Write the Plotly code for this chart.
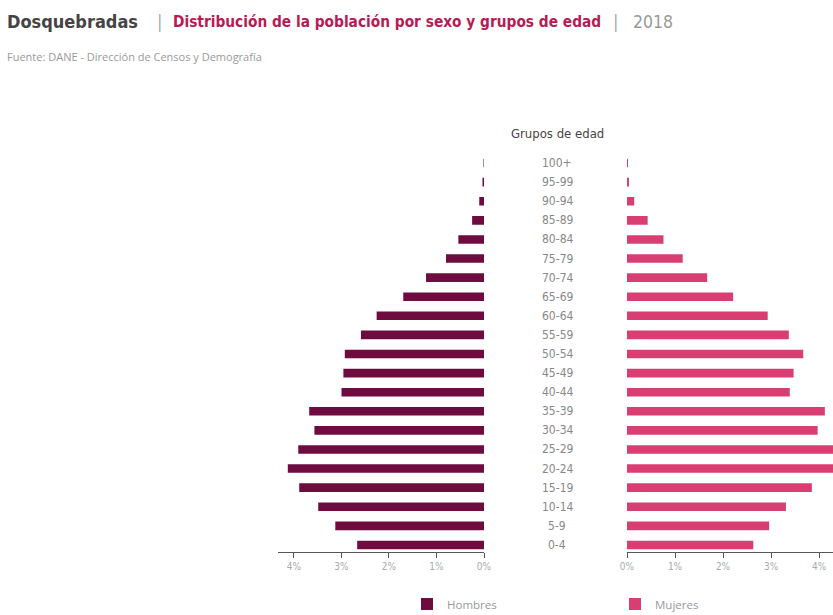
import plotly.graph_objects as go

age_groups = ["0-4", "5-9", "10-14", "15-19", "20-24", "25-29", "30-34", "35-39",
              "40-44", "45-49", "50-54", "55-59", "60-64", "65-69", "70-74",
              "75-79", "80-84", "85-89", "90-94", "95-99", "100+"]
hombres = [2.67, 3.13, 3.49, 3.89, 4.13, 3.91, 3.57, 3.68, 3.00, 2.96, 2.93,
           2.59, 2.26, 1.70, 1.22, 0.80, 0.54, 0.25, 0.10, 0.03, 0.01]
mujeres = [2.63, 2.96, 3.31, 3.85, 4.40, 4.40, 3.97, 4.12, 3.39, 3.47, 3.67,
           3.37, 2.93, 2.21, 1.67, 1.16, 0.76, 0.43, 0.15, 0.03, 0.01]
tick_vals = [0, 1, 2, 3, 4]
tick_text = ["0%", "1%", "2%", "3%", "4%"]

C_H = "#6e0c40"
C_M = "#d83e71"
FONT_C = "DejaVu Sans Condensed, Roboto, sans-serif"
FONT_L = "Open Sans, Roboto, sans-serif"
W, H = 833, 615

fig = go.Figure()
fig.add_trace(go.Bar(y=age_groups, x=hombres, orientation="h", name="Hombres",
                     marker=dict(color=C_H, line=dict(width=0)),
                     xaxis="x", yaxis="y", legend="legend", hoverinfo="x+y"))
fig.add_trace(go.Bar(y=age_groups, x=mujeres, orientation="h", name="Mujeres",
                     marker=dict(color=C_M, line=dict(width=0)),
                     xaxis="x2", yaxis="y", legend="legend2", hoverinfo="x+y"))

axis_common = dict(tickvals=tick_vals, ticktext=tick_text, showgrid=False,
                   zeroline=False, showline=True, linecolor="#555", linewidth=1,
                   ticks="outside", ticklen=5, tickcolor="#555",
                   tickfont=dict(family=FONT_C, size=10, color="#aaa"),
                   anchor="y", fixedrange=True, automargin=False)

ybot, ytop = 552, 153.5
fig.update_layout(
    width=W, height=H,
    margin=dict(l=0, r=0, t=0, b=0, pad=0, autoexpand=False),
    paper_bgcolor="white", plot_bgcolor="white",
    bargap=0.55,
    xaxis=dict(domain=[277.5 / W, 484 / W], range=[4.347, 0], **axis_common),
    xaxis2=dict(domain=[627 / W, 1.0], range=[0, 4.29], **axis_common),
    yaxis=dict(domain=[1 - ybot / H, 1 - ytop / H], range=[-0.37, 20.5],
               type="category", categoryorder="array", categoryarray=age_groups,
               showticklabels=False, showgrid=False, showline=False,
               zeroline=False, ticks="", fixedrange=True, automargin=False),
    legend=dict(x=407 / W, y=1 - 604 / H, xanchor="left", yanchor="middle",
                orientation="h", font=dict(family=FONT_L, size=11.5, color="#999"),
                itemwidth=30, bgcolor="rgba(0,0,0,0)"),
    legend2=dict(x=615 / W, y=1 - 604 / H, xanchor="left", yanchor="middle",
                 orientation="h", font=dict(family=FONT_L, size=11.5, color="#999"),
                 itemwidth=30, bgcolor="rgba(0,0,0,0)"),
    showlegend=True,
)

for g in age_groups:
    fig.add_annotation(x=557 / W, xref="paper", y=g, yref="y", text=g,
                       showarrow=False, xanchor="center", yanchor="middle",
                       font=dict(family=FONT_C, size=12, color="#888"))

fig.add_annotation(x=557 / W, xref="paper", y=1 - 133 / H, yref="paper",
                   text="Grupos de edad", showarrow=False, xanchor="center",
                   yanchor="middle", font=dict(family=FONT_C, size=13, color="#444"))

title_parts = [
    ("<b>Dosquebradas</b>", 5, 18, "#444"),
    ("|", 155, 18, "#aaa"),
    ("<b>Distribución de la población por sexo y grupos de edad</b>", 171, 15.3, "#b81a55"),
    ("|", 611, 18, "#aaa"),
    ("2018", 631, 17.5, "#999"),
]
for txt, px, size, col in title_parts:
    fig.add_annotation(x=px / W, xref="paper", y=1 - 22 / H, yref="paper", text=txt,
                       showarrow=False, xanchor="left", yanchor="middle",
                       font=dict(family=FONT_C, size=size, color=col))
fig.add_annotation(x=5 / W, xref="paper", y=1 - 57 / H, yref="paper",
                   text="Fuente: DANE - Dirección de Censos y Demografía",
                   showarrow=False, xanchor="left", yanchor="middle",
                   font=dict(family=FONT_L, size=11, color="#999"))

fig.write_html("out.html")
